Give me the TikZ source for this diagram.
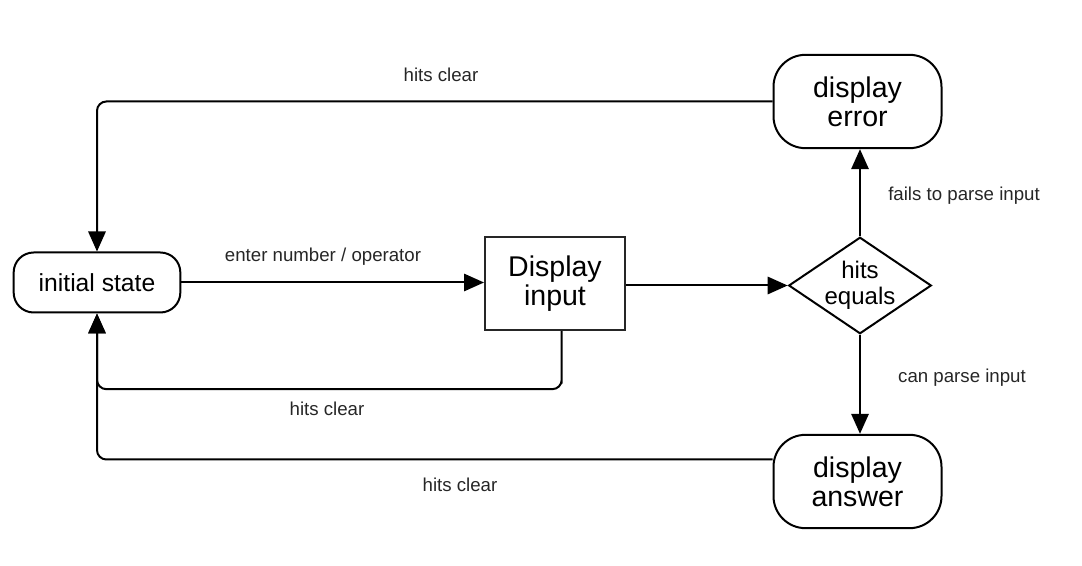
\documentclass[tikz,border=0pt]{standalone}
\usepackage{fontspec}
\setmainfont{Liberation Sans}
\usetikzlibrary{shapes.geometric,arrows.meta}

\tikzset{
  state/.style={draw, line width=1.5pt, align=center, inner sep=0pt},
  flow/.style={line width=1.5pt, rounded corners=7pt, -{Triangle[length=15pt,width=13pt]}},
  edgelabel/.style={text=black!85, font=\fontsize{14}{16}\selectfont}
}

\begin{document}
\begin{tikzpicture}[x=0.75pt,y=-0.75pt]
  \useasboundingbox (0,0) rectangle (1082,566);
  % states
  \node[state, rounded corners=15pt, minimum width=125pt, minimum height=45pt,
        font=\fontsize{18.5}{20}\selectfont] (init) at (97,282.5) {initial state};
  \node[state, draw=black!85, minimum width=105pt, minimum height=70pt,
        font=\fontsize{21.4}{22}\selectfont] (inp) at (555,283.5) {Display\\input};
  \node[state, diamond, shape aspect=1.47, minimum width=107pt,
        font=\fontsize{18}{19.5}\selectfont] (eq) at (860,285.5) {hits\\equals};
  \node[state, rounded corners=24pt, minimum width=126pt, minimum height=70pt,
        font=\fontsize{21.4}{22}\selectfont] (err) at (857.5,101.5) {display\\error};
  \node[state, rounded corners=24pt, minimum width=126pt, minimum height=70pt,
        font=\fontsize{21.4}{22}\selectfont] (ans) at (857.5,481.5) {display\\answer};
  % connectors
  \draw[flow] (init.east) -- (inp.west |- init.east);
  \draw[flow] (inp.east |- eq.west) -- (eq.west);
  \draw[flow] (eq.north) -- (eq.north |- err.south);
  \draw[flow] (eq.south) -- (eq.south |- ans.north);
  \draw[flow] (err.west) -| (init.north);
  \draw[flow] ([xshift=5pt]inp.south) |- ++(0,58) -| (init.south);
  \draw[flow] ([yshift=16.5pt]ans.west) -| (init.south);
  % labels
  \node[edgelabel] (lclrtop) at (441,75) {hits clear};
  \node[edgelabel] (lenter) at (323,257) {enter number / operator};
  \node[edgelabel] (lclrmid) at (327,409) {hits clear};
  \node[edgelabel] (lclrbot) at (460,485) {hits clear};
  \node[edgelabel] (lfail) at (964,196) {fails to parse input};
  \node[edgelabel] (lcan) at (962,378) {can parse input};
\end{tikzpicture}
\end{document}
